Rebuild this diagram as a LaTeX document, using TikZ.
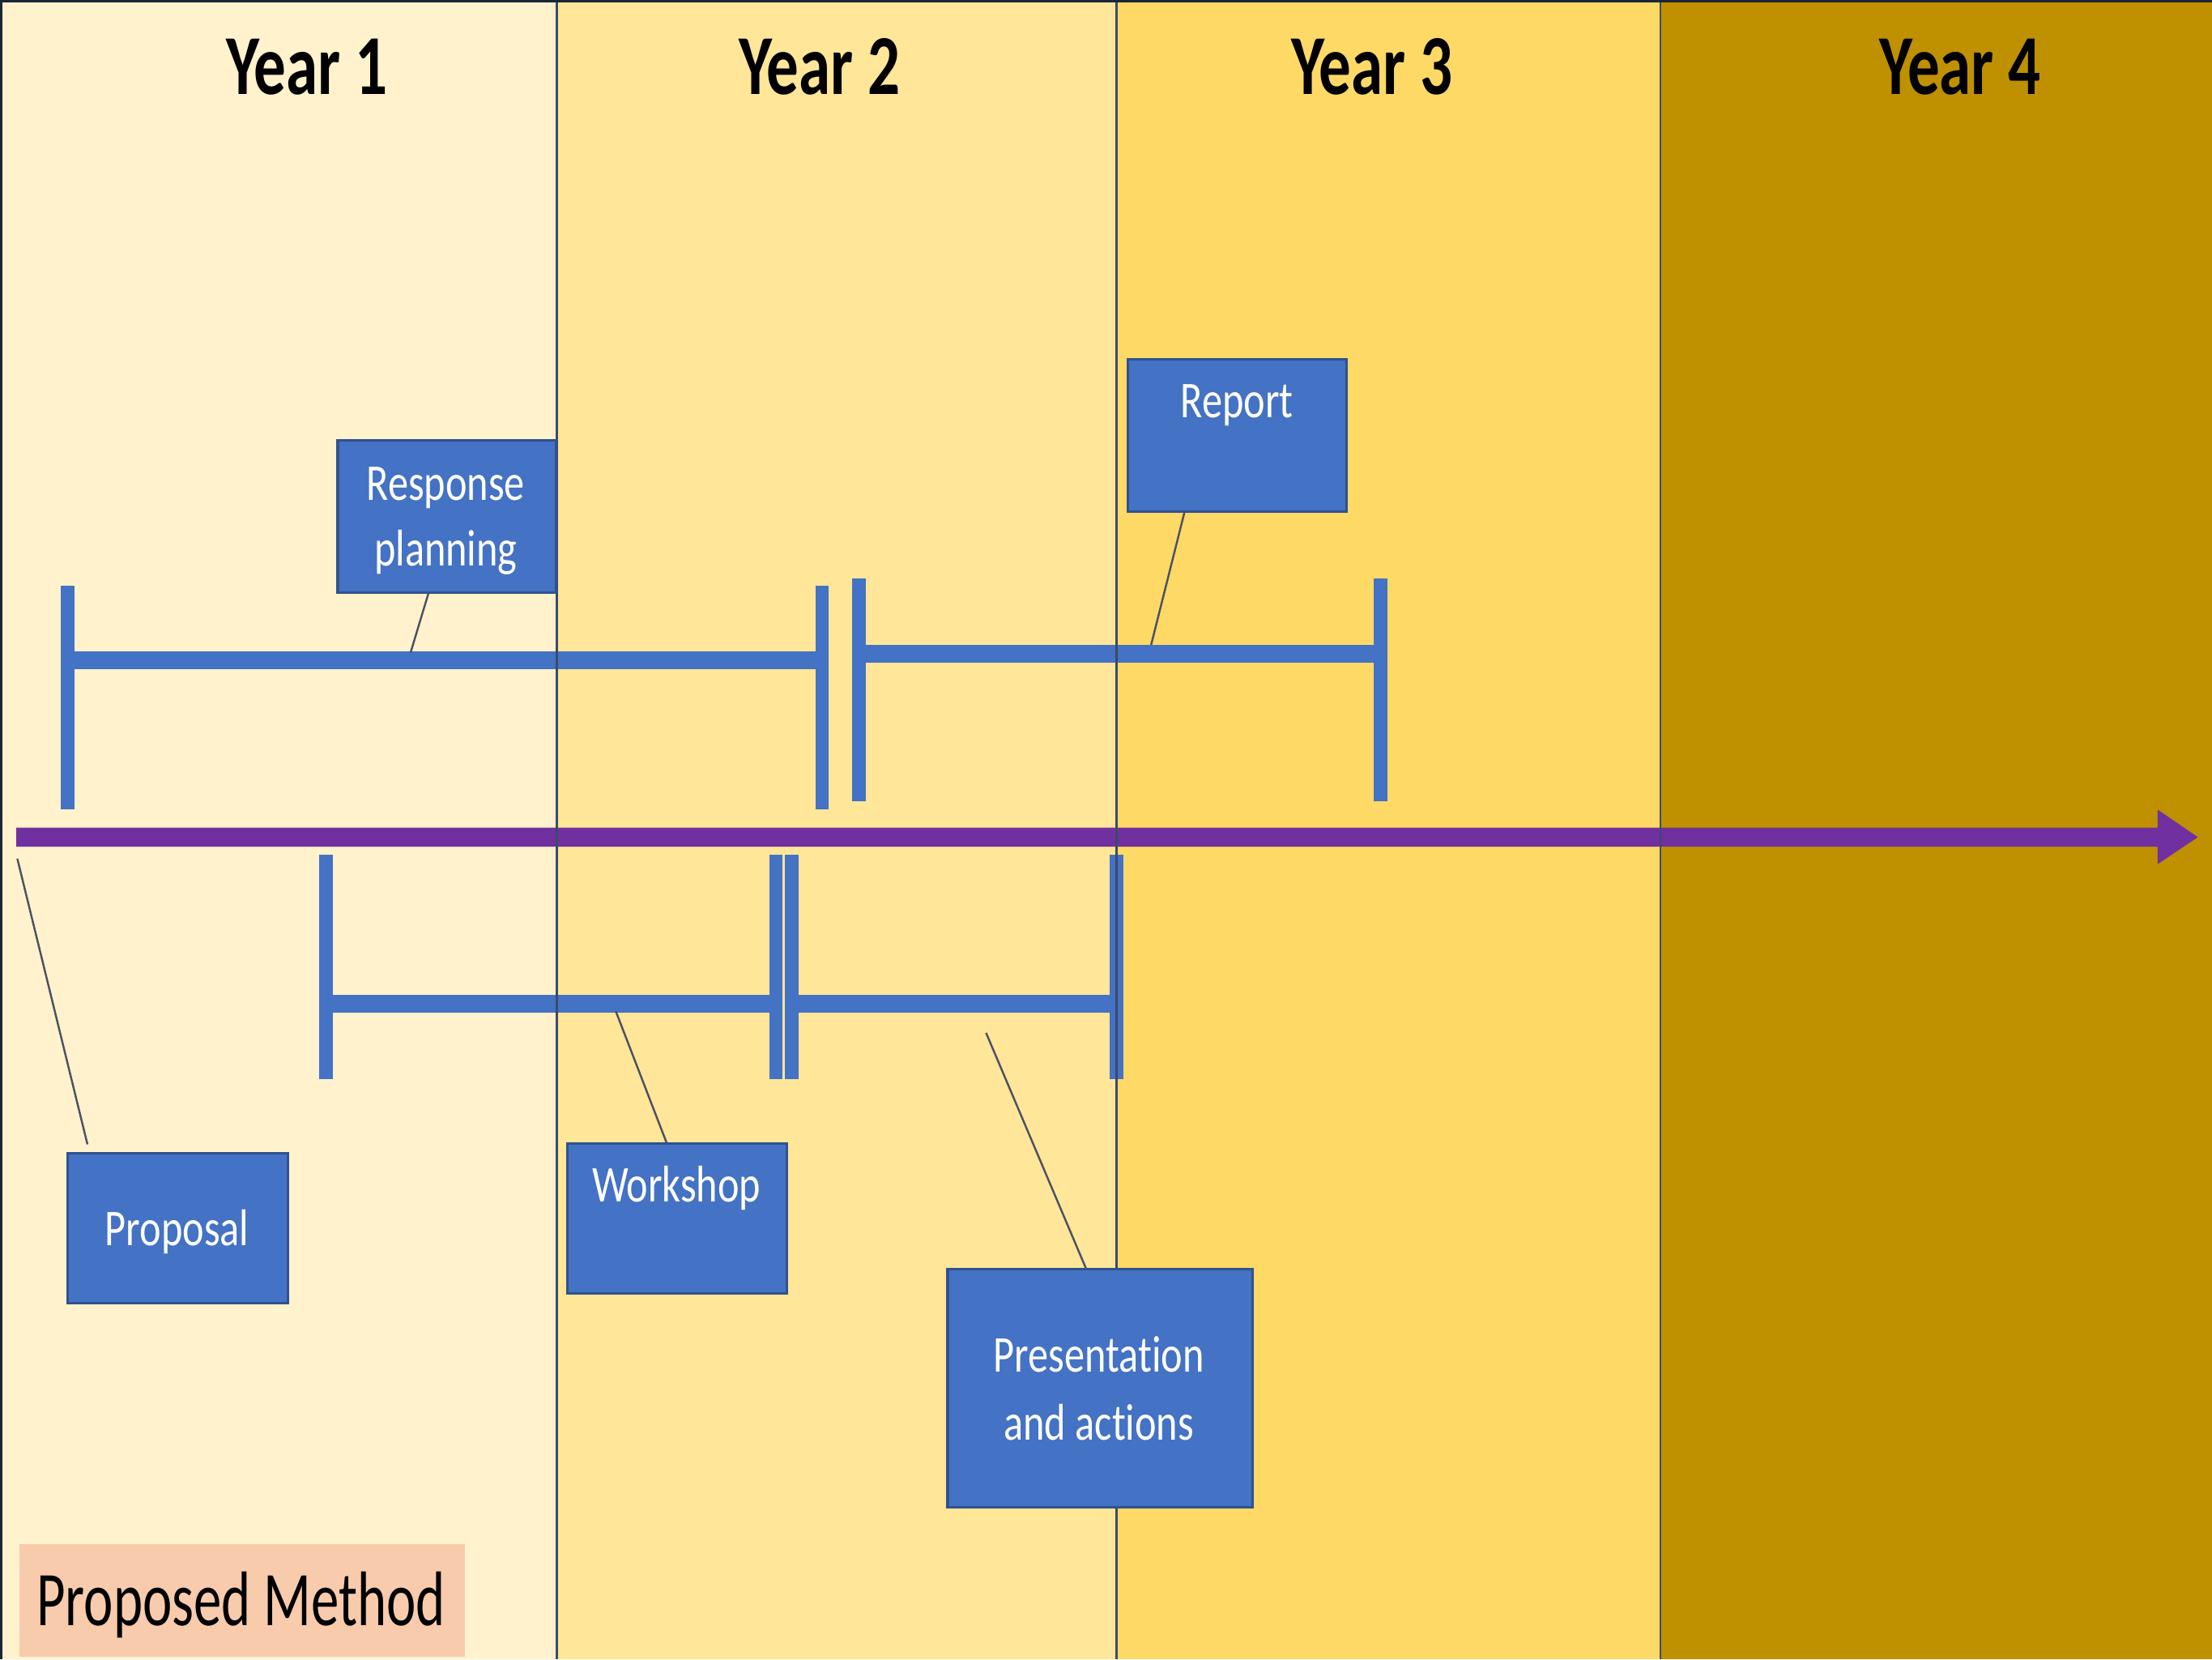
\documentclass[tikz,border=0pt]{standalone}
\usepackage{fontspec}
\setmainfont{Carlito}[Ligatures=NoCommon]
\usepackage{graphicx}
\definecolor{colA}{HTML}{FFF2CC}
\definecolor{colB}{HTML}{FFE699}
\definecolor{colC}{HTML}{FFD966}
\definecolor{colD}{HTML}{BF9000}
\definecolor{barblue}{HTML}{4472C4}
\definecolor{boxedge}{HTML}{2F528F}
\definecolor{arrowc}{HTML}{7030A0}
\definecolor{peach}{HTML}{F8CBAD}
\definecolor{divc}{HTML}{3B4A66}
\definecolor{calloutc}{HTML}{4A5263}
\definecolor{borderc}{HTML}{1C2536}
\newcommand{\hsq}[2]{\scalebox{#1}[1]{#2}}
\begin{document}
\begin{tikzpicture}[x=0.01cm,y=-0.01cm,
  bar/.style={fill=barblue},
  callout/.style={draw=calloutc, line width=0.4pt},
  boxnode/.style={draw=boxedge, fill=barblue, line width=0.5pt, inner sep=0pt, outer sep=0pt},
  boxtext/.style={text=white, font=\fontsize{10.4}{12}\selectfont, inner sep=0pt, anchor=base},
  yeartext/.style={text=black, font=\fontsize{17.2}{20}\selectfont\bfseries, inner sep=0pt, anchor=base},
  divider/.style={draw=divc, line width=0.35pt}]
\useasboundingbox (0,0) rectangle (1568,1176);
% columns
\fill[colA] (0,0) rectangle (394.7,1176);
\fill[colB] (394.7,0) rectangle (791.5,1176);
\fill[colC] (791.5,0) rectangle (1177,1176);
\fill[colD] (1177,0) rectangle (1568,1176);
% bars upper
\fill[bar] (43.2,415) rectangle (52.8,573.5);
\fill[bar] (48,461.9) rectangle (582.7,474.4);
\fill[bar] (577.9,415) rectangle (587.5,573.5);
\fill[bar] (604,410) rectangle (613.5,567.7);
\fill[bar] (608.7,457.2) rectangle (978.6,469.8);
\fill[bar] (973.8,410) rectangle (983.4,567.7);
% bars lower
\fill[bar] (226.3,605.7) rectangle (236,764.6);
\fill[bar] (231,705.2) rectangle (550,717.8);
\fill[bar] (545.2,605.7) rectangle (554.8,764.6);
\fill[bar] (556.4,605.7) rectangle (566,764.6);
\fill[bar] (561,705.2) rectangle (791.6,717.8);
\fill[bar] (786.8,605.7) rectangle (796.4,764.6);
% timeline arrow
\fill[arrowc] (11.5,586.6) -- (1529.5,586.6) -- (1529.5,573.8) -- (1558,593.3)
  -- (1529.5,612.4) -- (1529.5,600) -- (11.5,600) -- cycle;
% dividers
\draw[divider] (394.7,0) -- (394.7,1176);
\draw[divider] (791.5,0) -- (791.5,1176);
\draw[divider] (1177,0) -- (1177,1176);
% year labels
\node[yeartext] (y1) at (217.5,67) {\hsq{0.75}{Year 1}};
\node[yeartext] (y2) at (581,67) {\hsq{0.75}{Year 2}};
\node[yeartext] (y3) at (972.5,67) {\hsq{0.75}{Year 3}};
\node[yeartext] (y4) at (1389.5,67) {\hsq{0.75}{Year 4}};
% callout end points
\coordinate (rpTip) at (291.1,462.3);
\coordinate (repTip) at (816,457);
\coordinate (propTop) at (12.3,608.6);
\coordinate (propEnd) at (62,811);
\coordinate (wsTip) at (436.5,716.6);
\coordinate (presTip) at (699,732);
% boxes
\node[boxnode, minimum width=1.545cm, minimum height=1.078cm] (rp) at (316.7,366.1) {};
\node[boxnode, minimum width=1.548cm, minimum height=1.077cm] (rep) at (876.9,308.5) {};
\node[boxnode, minimum width=1.556cm, minimum height=1.06cm] (prop) at (126,870.3) {};
\node[boxnode, minimum width=1.551cm, minimum height=1.062cm] (ws) at (480,863.6) {};
\node[boxnode, minimum width=2.162cm, minimum height=1.686cm] (pres) at (779.9,983.7) {};
\node[fill=peach, inner sep=0pt, minimum width=3.157cm, minimum height=0.794cm] (pm) at (171.75,1134.3) {};
% callouts
\draw[callout] ([xshift=0.644cm]rp.south west) -- (rpTip);
\draw[callout] ([xshift=0.403cm]rep.south west) -- (repTip);
\draw[callout] (propTop) -- (propEnd);
\draw[callout] (wsTip) -- ([xshift=0.703cm]ws.north west);
\draw[callout] (presTip) -- ([xshift=0.982cm]pres.north west);
% box texts
\node[boxtext] (rpt1) at (316,354.5) {\hsq{0.79}{Response}};
\node[boxtext] (rpt2) at (316,400.9) {\hsq{0.79}{planning}};
\node[boxtext] (rept) at (876.7,296) {\hsq{0.79}{Report}};
\node[boxtext] (propt) at (125.5,882.5) {\hsq{0.79}{Proposal}};
\node[boxtext] (wst) at (479.5,851.6) {\hsq{0.79}{Workshop}};
\node[boxtext] (prest1) at (779,972.6) {\hsq{0.79}{Presentation}};
\node[boxtext] (prest2) at (779,1020.8) {\hsq{0.79}{and actions}};
\node[text=black, font=\fontsize{15.6}{18}\selectfont, inner sep=0pt, anchor=base] (pmt) at (170.8,1152) {\hsq{0.72}{Proposed Method}};
% border
\fill[borderc] (0,0) rectangle (1568,2);
\fill[borderc] (0,0) rectangle (1.5,1176);
\end{tikzpicture}
\end{document}
